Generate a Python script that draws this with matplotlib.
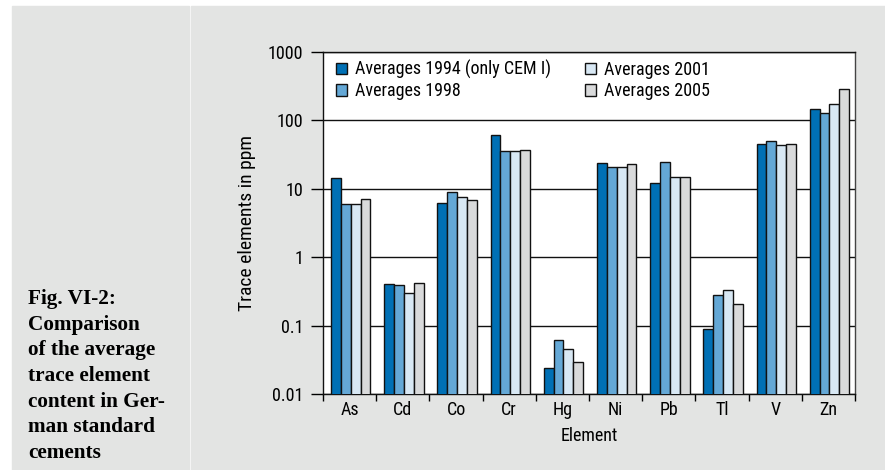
import matplotlib
matplotlib.use("Agg")
import matplotlib.pyplot as plt
from matplotlib import font_manager as fm
from matplotlib.patches import Rectangle, Patch
import numpy as np

elements = ["As", "Cd", "Co", "Cr", "Hg", "Ni", "Pb", "Tl", "V", "Zn"]
avg_1994 = [14.3, 0.40, 6.2, 61, 0.024, 23.7, 12.1, 0.089, 44.7, 145]
avg_1998 = [5.9, 0.39, 9.0, 36, 0.062, 21.1, 24.5, 0.28, 49.4, 127]
avg_2001 = [6.0, 0.30, 7.7, 36, 0.045, 20.7, 15.0, 0.33, 43.6, 172]
avg_2005 = [7.0, 0.42, 6.8, 36.5, 0.029, 23.1, 15.0, 0.21, 44.7, 285]
series_labels = ["Averages 1994 (only CEM I)", "Averages 1998",
                 "Averages 2001", "Averages 2005"]
colors = ["#0070b5", "#64a8d6", "#d8e8f4", "#d9dadb"]
ytick_labels = ["0.01", "0.1", "1", "10", "100", "1000"]


def narrow_font():
    # look for a condensed sans face; fall back to Liberation Sans
    for key in ["LiberationSansNarrow-Regular", "RobotoCondensed-Regular",
                "DejaVuSansCondensed.ttf", "OpenSans_Condensed-Regular",
                "OpenSansCondensed"]:
        for f in fm.fontManager.ttflist:
            if key in f.fname:
                return f.fname, True
    return None, False


path, found = narrow_font()
fs = 13 if found else 11.5


def fp(size=fs):
    if found:
        return fm.FontProperties(fname=path, size=size)
    return fm.FontProperties(family="Liberation Sans", size=size)


W, H = 885, 470
fig = plt.figure(figsize=(W / 100, H / 100), dpi=100, facecolor="white")

# grey panels
bg = "#e3e4e3"
fig.patches.append(Rectangle((12 / W, 0), (189 - 12) / W, 1 - 6 / H,
                             transform=fig.transFigure, color=bg, zorder=-5))
fig.patches.append(Rectangle((191 / W, 0), (W - 191) / W, 1 - 6 / H,
                             transform=fig.transFigure, color=bg, zorder=-5))

ax = fig.add_axes([323 / W, 1 - 394 / H, (855 - 323) / W, (394 - 52) / H])
ax.set_zorder(2)
ax.set_facecolor("white")
ax.set_yscale("log")
ax.set_ylim(0.01, 1000)
ax.set_xlim(0, len(elements))

data = [avg_1994, avg_1998, avg_2001, avg_2005]
bw = 0.185
x = np.arange(len(elements)) + 0.52
for k, (vals, c) in enumerate(zip(data, colors)):
    ax.bar(x + (k - 1.5) * bw, vals, width=bw, color=c, edgecolor="#111111",
           linewidth=1.0, zorder=3)

ax.yaxis.grid(True, which="major", color="#111111", linewidth=1.0, zorder=1)
ax.set_axisbelow(True)

ax.set_yticks([0.01, 0.1, 1, 10, 100, 1000])
ax.set_yticklabels(ytick_labels, fontproperties=fp())
ax.yaxis.set_minor_locator(matplotlib.ticker.NullLocator())
ax.tick_params(axis="y", direction="out", length=9, width=1, pad=5)

ax.set_xticks(np.arange(len(elements) + 1))
ax.set_xticklabels([])
ax.tick_params(axis="x", which="major", direction="out", length=5, width=1)
ax.set_xticks(np.arange(len(elements)) + 0.5, minor=True)
ax.set_xticklabels(elements, minor=True, fontproperties=fp())
ax.tick_params(axis="x", which="minor", length=0, pad=5)

for s in ["left", "bottom", "top"]:
    ax.spines[s].set_color("#111111")
    ax.spines[s].set_linewidth(1.0)
ax.spines["right"].set_color("#444444")
ax.spines["right"].set_linewidth(1.0)

ax.set_ylabel("Trace elements in ppm", fontproperties=fp(fs + 1), labelpad=9)
ax.set_xlabel("Element", fontproperties=fp(), labelpad=6)

handles = [Patch(facecolor=c, edgecolor="#111111", linewidth=1.0) for c in colors]
ax.legend(handles, series_labels, ncol=2, loc="upper left",
          bbox_to_anchor=(-0.006, 1.025), frameon=False, prop=fp(),
          handlelength=0.6, handleheight=0.6, handletextpad=0.45,
          columnspacing=1.9, labelspacing=0.2, borderaxespad=0.5)

caption = ("Fig. VI-2:\nComparison\nof the average\ntrace element\n"
           "content in Ger-\nman standard\ncements")
fig.text(28 / W, 1 - 289 / H, caption, family=["Liberation Serif", "DejaVu Serif"],
         fontweight="bold", fontsize=15.3, va="top", ha="left", linespacing=1.38)

fig.savefig("out.png", dpi=100, facecolor=fig.get_facecolor())
